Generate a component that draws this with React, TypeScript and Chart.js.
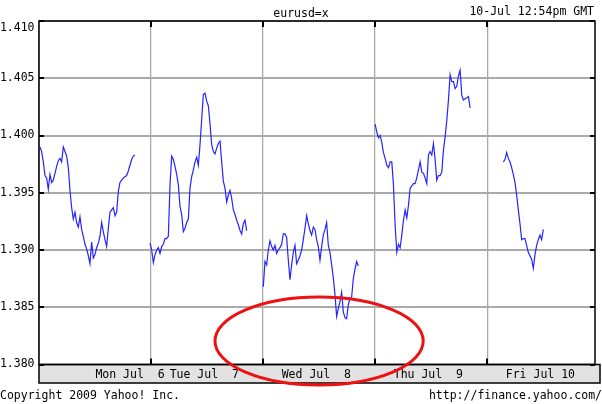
import React, { useEffect, useRef } from 'react';
import { Chart, registerables } from 'chart.js';

Chart.register(...registerables);

const SYMBOL = 'eurusd=x';
const TIMESTAMP = '10-Jul 12:54pm GMT';
const COPYRIGHT = 'Copyright 2009 Yahoo! Inc.';
const SOURCE_URL = 'http://finance.yahoo.com/';

const DAY_LABELS = ['Mon Jul  6', 'Tue Jul  7', 'Wed Jul  8', 'Thu Jul  9', 'Fri Jul 10'];
const Y_TICKS = [1.38, 1.385, 1.39, 1.395, 1.4, 1.405, 1.41];
const X_MAX_HOURS = 119.1;
const SAMPLE_STEP_HOURS = 0.357;
const DAY_START_HOURS = [0.21, 23.78, 48.05, 72.0, 99.46];

const monPrices = [
  1.3990, 1.3986, 1.3977, 1.3965, 1.3963, 1.3953, 1.3966, 1.3959, 1.3961, 1.3967,
  1.3973, 1.3978, 1.3980, 1.3977, 1.3990, 1.3986, 1.3982, 1.3972, 1.3952, 1.3937,
  1.3927, 1.3933, 1.3924, 1.3920, 1.3929, 1.3918, 1.3912, 1.3905, 1.3901, 1.3895,
  1.3888, 1.3907, 1.3893, 1.3896, 1.3902, 1.3906, 1.3912, 1.3924, 1.3916, 1.3909,
  1.3903, 1.3919, 1.3933, 1.3935, 1.3937, 1.3930, 1.3933, 1.3951, 1.3959, 1.3961,
  1.3963, 1.3964, 1.3965, 1.3969, 1.3974, 1.3979, 1.3982, 1.3983,
];
const tuePrices = [
  1.3906, 1.3900, 1.3889, 1.3896, 1.3900, 1.3902, 1.3897, 1.3903, 1.3905, 1.3910,
  1.3910, 1.3912, 1.3957, 1.3982, 1.3979, 1.3973, 1.3966, 1.3957, 1.3938, 1.3931,
  1.3916, 1.3919, 1.3924, 1.3927, 1.3954, 1.3964, 1.3970, 1.3977, 1.3981, 1.3974,
  1.3992, 1.4014, 1.4036, 1.4037, 1.4030, 1.4026, 1.4010, 1.3992, 1.3986, 1.3984,
  1.3989, 1.3993, 1.3995, 1.3977, 1.3960, 1.3954, 1.3942, 1.3948, 1.3952, 1.3945,
  1.3935, 1.3931, 1.3926, 1.3922, 1.3917, 1.3914, 1.3923, 1.3926, 1.3917,
];
const wedPrices = [
  1.3868, 1.3890, 1.3887, 1.3900, 1.3908, 1.3903, 1.3900, 1.3904, 1.3897, 1.3900,
  1.3902, 1.3905, 1.3914, 1.3914, 1.3911, 1.3891, 1.3874, 1.3887, 1.3898, 1.3904,
  1.3888, 1.3891, 1.3895, 1.3900, 1.3909, 1.3919, 1.3930, 1.3923, 1.3917, 1.3913,
  1.3920, 1.3918, 1.3909, 1.3903, 1.3891, 1.3903, 1.3913, 1.3918, 1.3924, 1.3904,
  1.3898, 1.3887, 1.3876, 1.3861, 1.3842, 1.3849, 1.3855, 1.3863, 1.3846, 1.3841,
  1.3840, 1.3852, 1.3858, 1.3859, 1.3875, 1.3883, 1.3890, 1.3886,
];
const thuPrices = [
  1.4010, 1.4003, 1.3998, 1.4000, 1.3994, 1.3985, 1.3980, 1.3974, 1.3972, 1.3977,
  1.3977, 1.3957, 1.3922, 1.3898, 1.3905, 1.3902, 1.3913, 1.3926, 1.3935, 1.3928,
  1.3939, 1.3954, 1.3956, 1.3958, 1.3958, 1.3963, 1.3970, 1.3977, 1.3968, 1.3967,
  1.3963, 1.3958, 1.3983, 1.3986, 1.3983, 1.3993, 1.3979, 1.3961, 1.3965, 1.3965,
  1.3968, 1.3987, 1.3999, 1.4013, 1.4031, 1.4053, 1.4047, 1.4047, 1.4041, 1.4043,
  1.4052, 1.4057, 1.4035, 1.4031, 1.4032, 1.4033, 1.4034, 1.4024,
];
const friPrices = [
  1.3977, 1.3979, 1.3985, 1.3980, 1.3977, 1.3972, 1.3966, 1.3959, 1.3948, 1.3935,
  1.3923, 1.3909, 1.3910, 1.3910, 1.3904, 1.3898, 1.3895, 1.3892, 1.3884, 1.3896,
  1.3904, 1.3909, 1.3913, 1.3909, 1.3918,
];

const DAY_SERIES = [monPrices, tuePrices, wedPrices, thuPrices, friPrices];

// Red annotation ellipse, in data units (hours, price)
const ELLIPSE_CENTER_HOUR = 60.0;
const ELLIPSE_CENTER_PRICE = 1.38205;
const ELLIPSE_HALF_HOURS = 22.3;
const ELLIPSE_HALF_PRICE = 0.00384;

const FONT = '"DejaVu Sans Mono", "Liberation Mono", monospace';
const FONT_SIZE = 11.5;
const GRID_GRAY = '#aaaaaa';
const LINE_BLUE = '#2424ff';

const labelHour = (d: number) => (d === 0 ? 19.5 : d * 24 + 11.4);

const yahooPlugin = {
  id: 'yahooFrame',
  beforeDraw(chart: any) {
    const { ctx, chartArea: a } = chart;
    const xs = chart.scales.x;
    ctx.save();
    ctx.fillStyle = '#ffffff';
    ctx.fillRect(0, 0, chart.width, chart.height);
    const bandRight = chart.width - 2;
    ctx.fillStyle = '#e2e2e2';
    ctx.fillRect(a.left, a.bottom, bandRight - a.left, xs.bottom - a.bottom);
    ctx.strokeStyle = '#000';
    ctx.lineWidth = 1.5;
    ctx.strokeRect(a.left, a.bottom, bandRight - a.left, xs.bottom - a.bottom);
    ctx.restore();
  },
  afterDraw(chart: any) {
    const { ctx, chartArea: a } = chart;
    const xs = chart.scales.x;
    const ys = chart.scales.y;
    ctx.save();
    // frame
    ctx.strokeStyle = '#000';
    ctx.lineWidth = 1.5;
    ctx.strokeRect(a.left, a.top, a.right - a.left, a.bottom - a.top);
    // tick marks
    ctx.lineWidth = 2;
    ctx.beginPath();
    Y_TICKS.forEach((v) => {
      const py = Math.round(ys.getPixelForValue(v));
      ctx.moveTo(a.left, py);
      ctx.lineTo(a.left + 5, py);
      ctx.moveTo(a.right - 5, py);
      ctx.lineTo(a.right, py);
    });
    for (let d = 1; d < DAY_LABELS.length; d++) {
      const px = Math.round(xs.getPixelForValue(d * 24));
      ctx.moveTo(px, a.bottom - 6);
      ctx.lineTo(px, a.bottom);
      ctx.moveTo(px, a.top);
      ctx.lineTo(px, a.top + 6);
    }
    ctx.stroke();
    // texts
    ctx.fillStyle = '#000';
    ctx.font = `${FONT_SIZE}px ${FONT}`;
    ctx.textBaseline = 'alphabetic';
    ctx.textAlign = 'center';
    ctx.fillText(SYMBOL, chart.width / 2, 17);
    ctx.textAlign = 'right';
    ctx.fillText(TIMESTAMP, chart.width - 8, 15);
    ctx.fillText(SOURCE_URL, chart.width, 399);
    ctx.textAlign = 'left';
    ctx.fillText(COPYRIGHT, 0, 399);
    // annotation ellipse
    const cx = xs.getPixelForValue(ELLIPSE_CENTER_HOUR);
    const cy = ys.getPixelForValue(ELLIPSE_CENTER_PRICE);
    const rx = xs.getPixelForValue(ELLIPSE_CENTER_HOUR + ELLIPSE_HALF_HOURS) - cx;
    const ry = cy - ys.getPixelForValue(ELLIPSE_CENTER_PRICE + ELLIPSE_HALF_PRICE);
    ctx.strokeStyle = '#ee1111';
    ctx.lineWidth = 3;
    ctx.beginPath();
    ctx.ellipse(cx, cy, rx, ry, 0, 0, Math.PI * 2);
    ctx.stroke();
    ctx.restore();
  },
};

export default function App() {
  const canvasRef = useRef<HTMLCanvasElement | null>(null);

  useEffect(() => {
    if (!canvasRef.current) return;
    const datasets = DAY_SERIES.map((prices, d) => ({
      label: DAY_LABELS[d],
      data: prices.map((p, i) => ({ x: DAY_START_HOURS[d] + i * SAMPLE_STEP_HOURS, y: p })),
      borderColor: LINE_BLUE,
      borderWidth: 1.2,
      pointRadius: 0,
      tension: 0,
      fill: false,
    }));

    const xTickValues: number[] = [];
    for (let d = 0; d < DAY_LABELS.length; d++) {
      xTickValues.push(d * 24, labelHour(d));
    }

    const chart = new Chart(canvasRef.current, {
      type: 'line',
      data: { datasets },
      plugins: [yahooPlugin],
      options: {
        animation: false,
        responsive: false,
        devicePixelRatio: 1,
        layout: { padding: { top: 21, left: 0, right: 7, bottom: 21 } },
        plugins: {
          legend: { display: false },
          tooltip: { enabled: false },
          title: { display: false },
        },
        scales: {
          x: {
            type: 'linear',
            min: 0,
            max: X_MAX_HOURS,
            afterFit: (scale: any) => {
              scale.height = 18.5;
            },
            afterBuildTicks: (scale: any) => {
              scale.ticks = xTickValues.map((v) => ({ value: v }));
            },
            border: { display: false },
            grid: {
              drawTicks: false,
              lineWidth: 1.3,
              color: (c: any) =>
                c.tick && Math.abs(c.tick.value % 24) < 1e-9 ? GRID_GRAY : 'rgba(0,0,0,0)',
            },
            ticks: {
              autoSkip: false,
              maxRotation: 0,
              minRotation: 0,
              padding: 4,
              color: '#000',
              font: { family: FONT, size: FONT_SIZE },
              callback: (value: any) => {
                for (let d = 0; d < DAY_LABELS.length; d++) {
                  if (Math.abs(labelHour(d) - value) < 1e-9) return DAY_LABELS[d];
                }
                return '';
              },
            },
          },
          y: {
            type: 'linear',
            min: Y_TICKS[0],
            max: Y_TICKS[Y_TICKS.length - 1],
            afterFit: (scale: any) => {
              scale.width = 39;
            },
            afterBuildTicks: (scale: any) => {
              scale.ticks = Y_TICKS.map((v) => ({ value: v }));
            },
            border: { display: false },
            grid: { drawTicks: false, lineWidth: 2, color: GRID_GRAY },
            ticks: {
              padding: 4.5,
              color: '#000',
              font: { family: FONT, size: FONT_SIZE },
              callback: (value: any, index: number) => {
                const txt = Number(value).toFixed(3);
                return index === Y_TICKS.length - 1 ? ['', txt] : txt;
              },
            },
          },
        },
      },
    });
    return () => chart.destroy();
  }, []);

  return (
    <div style={{ position: 'fixed', left: 0, top: 0, width: 602, height: 404, background: '#fff' }}>
      <canvas ref={canvasRef} width={602} height={404} style={{ width: 602, height: 404, display: 'block' }} />
    </div>
  );
}
